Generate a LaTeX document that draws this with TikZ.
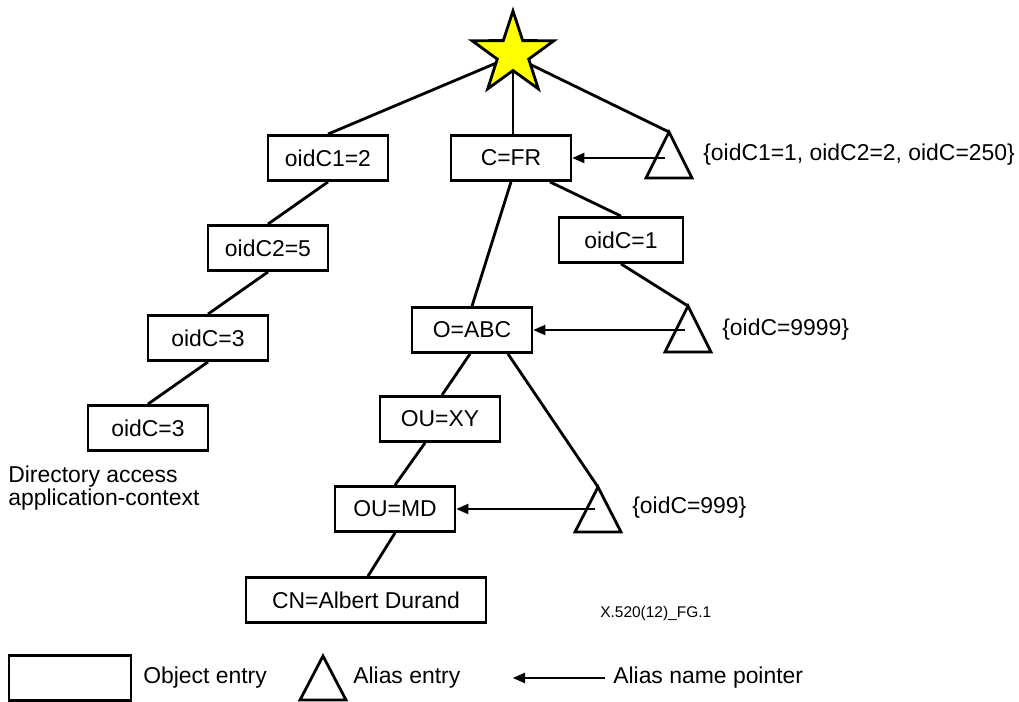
\documentclass[tikz,border=0pt]{standalone}
\usepackage{fontspec}
\setmainfont{Liberation Sans}
\usepackage{tikz}
\usetikzlibrary{shapes,arrows.meta}
\usetikzlibrary{positioning}
\definecolor{starfill}{RGB}{255,255,0}
\tikzstyle{entry} = [rectangle, draw, line width=2pt, fill=white, text centered, minimum width=3cm, minimum height=1.125cm, inner sep=0pt]
\tikzstyle{link} = [line width=2pt]
\tikzstyle{alias} = [line width=2pt]
\tikzstyle{pointer} = [line width=0.8pt, -{Triangle[length=3mm, width=2.6mm]}]
\tikzstyle{label} = [anchor=west, inner sep=0pt]

\begin{document}
\begin{tikzpicture}[x=0.025cm, y=-0.025cm, font=\fontsize{16.3}{16}\selectfont]
	\useasboundingbox (0,0) rectangle (1019,702);

	% left branch
	\node[entry](Entry-C1) at (328,158){oidC1=2};
	\node[entry](Entry-C2) at (268,248){oidC2=5};
	\node[entry](Entry-C3a) at (208,338){oidC=3};
	\node[entry](Entry-C3b) at (148,428){oidC=3};
	\node[label, align=left](Label-Ctx) at (8,488){Directory access\\application-context};

	% middle branch
	\node[entry](Entry-FR) at (511,158){C=FR};
	\node[entry, minimum width=3.1cm](Entry-C1r) at (621,240){oidC=1};
	\node[entry](Entry-ABC) at (472,330){O=ABC};
	\node[entry](Entry-XY) at (440,419){OU=XY};
	\node[entry](Entry-MD) at (395,509){OU=MD};
	\node[entry, minimum width=6cm](Entry-CN) at (366,600){CN=Albert Durand};

	% alias entries
	\coordinate (Alias-1) at (669,132);
	\coordinate (Alias-2) at (688,306);
	\coordinate (Alias-3) at (598,487);
	\draw[alias] (Alias-1) -- ++(-23,46) -- ++(46,0) -- cycle;
	\draw[alias] (Alias-2) -- ++(-23,46) -- ++(46,0) -- cycle;
	\draw[alias] (Alias-3) -- ++(-23,45) -- ++(46,0) -- cycle;
	\node[label](Label-1) at (703,155){\{oidC1=1, oidC2=2, oidC=250\}};
	\node[label](Label-2) at (722,330){\{oidC=9999\}};
	\node[label](Label-3) at (632,508){\{oidC=999\}};

	% tree links
	\coordinate (Root-c) at (513,56);
	\draw[link] (Root-c) -- (Entry-C1.north);
	\draw[link] (Root-c) -- (Entry-FR.north -| Root-c);
	\draw[link] (Root-c) -- (Alias-1);
	\draw[link] (Entry-C1.south) -- (Entry-C2.north);
	\draw[link] (Entry-C2.south) -- (Entry-C3a.north);
	\draw[link] (Entry-C3a.south) -- (Entry-C3b.north);
	\draw[link] (Entry-FR.south) -- (Entry-ABC.north);
	\draw[link] ([shift={(39,0)}]Entry-FR.south) -- (Entry-C1r.north);
	\draw[link] (Entry-C1r.south) -- (Alias-2);
	\draw[link] ([shift={(-2,0)}]Entry-ABC.south) -- ([shift={(2,0)}]Entry-XY.north);
	\draw[link] ([shift={(36,0)}]Entry-ABC.south) -- (Alias-3);
	\draw[link] ([shift={(-15,0)}]Entry-XY.south) -- (Entry-MD.north);
	\draw[link] (Entry-MD.south) -- ([shift={(2,0)}]Entry-CN.north);

	% root
	\node[star, star points=5, star point ratio=2.6, minimum size=2.15cm, inner sep=0pt, draw, line width=2pt, fill=starfill](Root) at (513,54){};

	% alias name pointers
	\coordinate (Ptr-1) at (665,158);
	\coordinate (Ptr-2) at (685,330);
	\coordinate (Ptr-3) at (595,509);
	\draw[pointer] (Ptr-1) -- (Ptr-1 -| Entry-FR.east);
	\draw[pointer] (Ptr-2) -- (Ptr-2 -| Entry-ABC.east);
	\draw[pointer] (Ptr-3) -- (Ptr-3 -| Entry-MD.east);

	\node[label, font=\fontsize{11}{13}\selectfont](Fig-Id) at (600,613){X.520(12)\_FG.1};

	% legend
	\node[entry, minimum width=3.05cm](Legend-Entry) at (70,678){};
	\node[label](Legend-Entry-Text) at (143,678){Object entry};
	\coordinate (Legend-Alias) at (323,656);
	\draw[alias] (Legend-Alias) -- ++(-23,44) -- ++(46,0) -- cycle;
	\node[label](Legend-Alias-Text) at (353,678){Alias entry};
	\coordinate (Legend-Ptr) at (605,678);
	\coordinate (Legend-Tip) at (513,678);
	\draw[pointer] (Legend-Ptr) -- (Legend-Tip);
	\node[label](Legend-Ptr-Text) at (613,678){Alias name pointer};
\end{tikzpicture}
\end{document}
